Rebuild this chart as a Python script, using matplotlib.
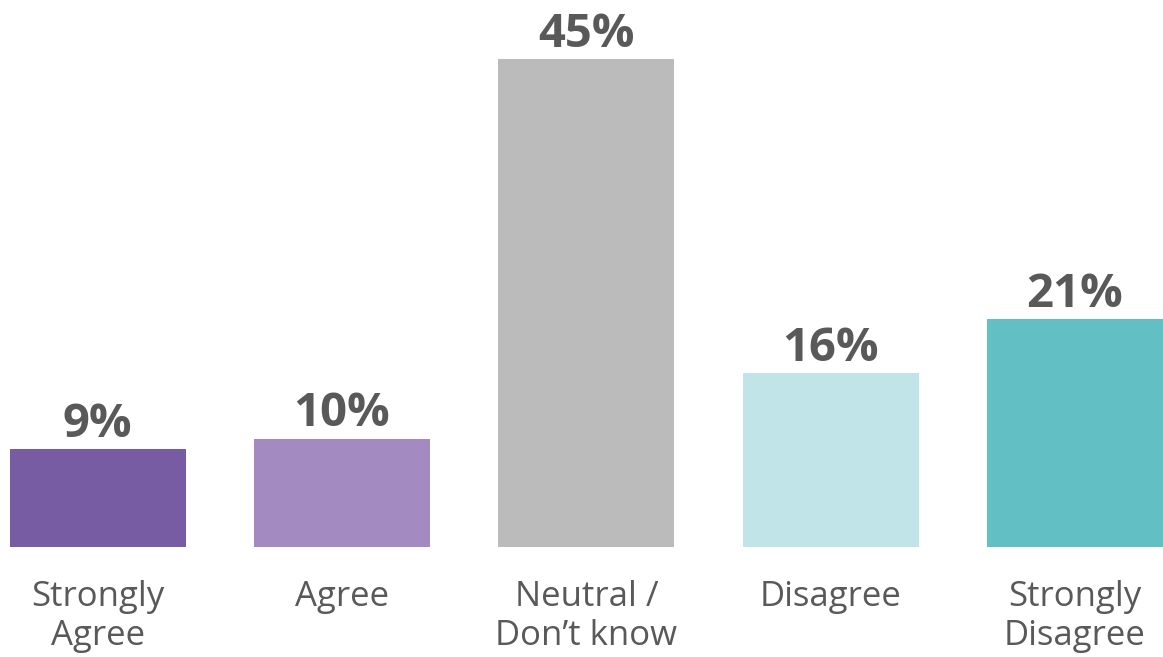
import numpy as np
import matplotlib
matplotlib.use("Agg")
import matplotlib.pyplot as plt

plt.rcParams["font.family"] = ["Open Sans", "DejaVu Sans"]

categories = ["Strongly\nAgree", "Agree", "Neutral /\nDon\u2019t know", "Disagree", "Strongly\nDisagree"]
values = [9, 10, 45, 16, 21]
colors = ["#775ca3", "#a38bc1", "#bbbbbb", "#c0e4e7", "#62c0c4"]
TEXT = "#595959"

fig = plt.figure(figsize=(11.63, 6.57), dpi=100)
ax = fig.add_axes([0, 110 / 657, 1, 547 / 657])

x = np.arange(len(values))
bars = ax.bar(x, values, width=0.72, color=colors)
for xi, v in zip(x, values):
    ax.annotate(f"{v}%", (xi, v), xytext=(0, 1), textcoords="offset points",
                ha="center", va="bottom", fontsize=34, fontweight="bold", color=TEXT)

ax.set_xlim(-0.40, 4.36)
ax.set_ylim(0, 50.44)
ax.set_xticks(x, categories)
ax.tick_params(axis="x", length=0, pad=24, labelsize=25, labelcolor=TEXT)
for lbl in ax.get_xticklabels():
    lbl.set_linespacing(1.17)
ax.set_yticks([])
for s in ax.spines.values():
    s.set_visible(False)

fig.savefig("out.png", dpi=100, facecolor="white")
